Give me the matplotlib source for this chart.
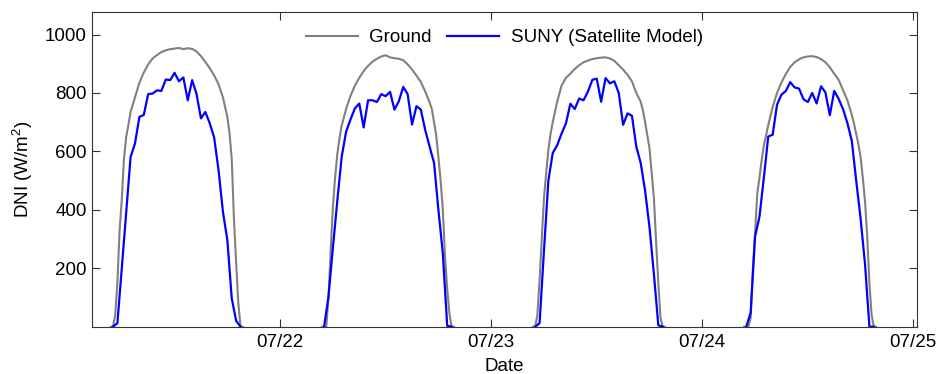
import numpy as np
import pandas as pd
import matplotlib
matplotlib.use('Agg')
import matplotlib.pyplot as plt
import matplotlib.dates as mdates

plt.rcParams['font.family'] = ['Liberation Sans', 'DejaVu Sans']
plt.rcParams['mathtext.fontset'] = 'custom'
plt.rcParams['mathtext.rm'] = 'Liberation Sans'

days = ['2013-07-21', '2013-07-22', '2013-07-23', '2013-07-24']
tick_days = ['2013-07-22', '2013-07-23', '2013-07-24', '2013-07-25']

# SUNY satellite model, half-hourly (hour of day)
suny_hours = [5.0, 5.5, 6.0, 6.5, 7.0, 7.5, 8.0, 8.5, 9.0, 9.5, 10.0, 10.5,
              11.0, 11.5, 12.0, 12.5, 13.0, 13.5, 14.0, 14.5, 15.0, 15.5,
              16.0, 16.5, 17.0, 17.5, 18.0, 18.5, 19.0, 19.5]
suny_0721 = [0, 12, 200, 390, 581, 627, 718, 725, 796, 798, 809, 807, 846, 844, 869,
             840, 853, 775, 844, 796, 713, 735, 696, 648, 536, 393, 297, 97, 20, 0]
suny_0722 = [0, 103, 270, 430, 581, 667, 709, 747, 764, 682, 775, 775, 769, 796, 789,
             804, 743, 772, 821, 796, 692, 755, 743, 673, 616, 561, 399, 251, 3, 0]
suny_0723 = [0, 12, 260, 500, 595, 621, 661, 696, 763, 745, 781, 775, 805, 845, 849,
             770, 851, 833, 840, 800, 691, 730, 722, 616, 560, 465, 340, 180, 5, 0]
suny_0724 = [0, 48, 308, 376, 510, 651, 657, 760, 794, 807, 837, 819, 815, 779, 769,
             800, 764, 823, 802, 724, 807, 780, 745, 697, 636, 500, 370, 215, 0, 0]

# ground measurements
ground_hours = [4.75, 5.0, 5.25, 5.5, 5.75, 6.0, 6.25, 6.5, 6.75, 7.0,
                7.5, 8.0, 8.5, 9.0, 9.5, 10.0, 10.5, 11.0, 11.5, 12.0,
                12.5, 13.0, 13.5, 14.0, 14.5, 15.0, 15.5, 16.0, 16.5, 17.0,
                17.25, 17.5, 17.75, 18.0, 18.25, 18.5, 18.75, 19.0, 19.25, 19.5, 19.75]
ground_0721 = [0, 0, 40, 150, 330, 435, 575, 650, 690, 735,
               785, 835, 870, 898, 918, 930, 940, 946, 950, 952,
               954, 950, 953, 951, 942, 926, 906, 885, 860, 830,
               808, 785, 752, 718, 662, 575, 370, 220, 80, 0, 0]
ground_0722 = [0, 0, 0, 100, 260, 410, 510, 590, 645, 688,
               745, 790, 825, 852, 875, 893, 907, 917, 925, 929,
               922, 919, 917, 912, 898, 880, 860, 838, 805, 768,
               745, 700, 655, 580, 500, 400, 240, 130, 45, 0, 0]
ground_0723 = [0, 0, 40, 160, 300, 440, 525, 605, 660, 700,
               770, 825, 852, 866, 882, 895, 905, 911, 916, 919,
               921, 922, 918, 910, 895, 880, 862, 840, 800, 770,
               740, 700, 655, 610, 525, 440, 290, 150, 30, 0, 0]
ground_0724 = [0, 0, 0, 30, 200, 320, 455, 510, 570, 620,
               690, 752, 800, 836, 865, 889, 905, 915, 922, 925,
               926, 923, 916, 905, 888, 866, 845, 810, 775, 725,
               695, 660, 625, 580, 510, 430, 310, 150, 40, 0, 0]


def stitch(hours, series):
    t, v = [], []
    for d, vals in zip(days, series):
        base = pd.Timestamp(d)
        t += [base + pd.Timedelta(hours=h) for h in hours]
        v += list(vals)
        t.append(base + pd.Timedelta(hours=23))
        v.append(np.nan)
    return t, v


gt, gv = stitch(ground_hours, [ground_0721, ground_0722, ground_0723, ground_0724])
st, sv = stitch(suny_hours, [suny_0721, suny_0722, suny_0723, suny_0724])

fig = plt.figure(figsize=(9.39, 3.74), dpi=100)
ax = fig.add_axes([0.0977, 0.1265, 0.8786, 0.8405])

ax.plot(gt, gv, color='#808080', lw=1.5, label='Ground')
ax.plot(st, sv, color='#0000ff', lw=1.6, label='SUNY (Satellite Model)')

ax.set_xlim(pd.Timestamp('2013-07-21 02:35'), pd.Timestamp('2013-07-25 00:23'))
ax.set_ylim(0, 1076)
ax.set_yticks([200, 400, 600, 800, 1000])
ax.set_xticks([pd.Timestamp(d) for d in tick_days])
ax.xaxis.set_major_formatter(mdates.DateFormatter('%m/%d'))

ax.tick_params(direction='in', length=6, width=0.8, top=True, right=True,
               labelsize=13.5, color='#333333')
ax.tick_params(axis='x', pad=5)
for s in ax.spines.values():
    s.set_color('#333333')
    s.set_linewidth(0.8)

ax.set_xlabel('Date', fontsize=13.5, labelpad=5)
ax.set_ylabel('DNI (W/m$^2$)', fontsize=13.5, labelpad=7)

ax.legend(loc='upper center', ncol=2, frameon=False, fontsize=13.5,
          handlelength=2.8, columnspacing=0.8, handletextpad=0.6,
          bbox_to_anchor=(0.5, 1.0))

fig.savefig('out.png', dpi=100)
